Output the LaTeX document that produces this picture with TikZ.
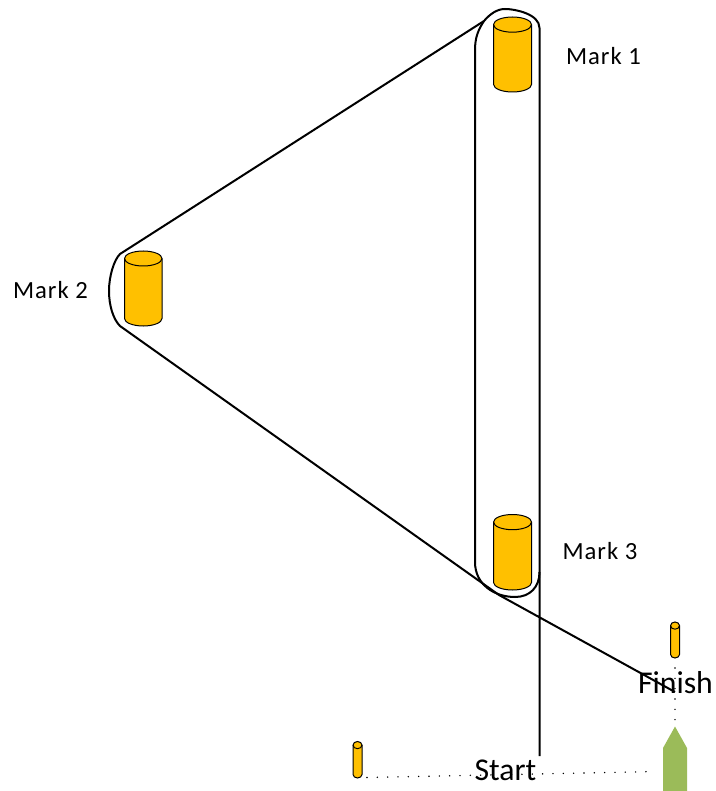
\documentclass[tikz,border=0pt]{standalone}
\usepackage{fontspec}
\setmainfont{Carlito}
\newfontfamily\markfont[LetterSpace=4]{Carlito}
\definecolor{markcol}{HTML}{FFC000}
\definecolor{boatcol}{HTML}{9BBB59}
\tikzset{
  course/.style={draw=black,line width=1.5pt,line join=round},
  markline/.style={draw=black,line width=0.75pt,fill=markcol},
  ellline/.style={draw=black,line width=0.75pt},
  marklabel/.style={font=\markfont\fontsize{18.5}{20}\selectfont,inner sep=0pt,anchor=center},
  bigtext/.style={font=\fontsize{23.8}{26}\selectfont,inner sep=0pt,anchor=center},
  dotline/.style={draw=black,line width=1.2pt,line cap=round,dash pattern=on 0pt off 7.75pt},
}
\newcommand{\cyl}[5]{% left x, right x, top y, bottom y, ellipse ratio
  \pgfmathsetmacro{\rx}{(#2-#1)/2}
  \pgfmathsetmacro{\ry}{\rx*#5}
  \path[markline] (#1,#3+\ry) -- (#1,#4-\ry) arc[x radius=\rx,y radius=\ry,start angle=180,end angle=0] -- (#2,#3+\ry) arc[x radius=\rx,y radius=\ry,start angle=0,end angle=-180] -- cycle;
  \path[ellline] (#1,#3+\ry) arc[x radius=\rx,y radius=\ry,start angle=180,end angle=0];
}
\begin{document}
\begin{tikzpicture}[x=0.75pt,y=-0.75pt]
\useasboundingbox (0,0) rectangle (715,791);
% course
\coordinate (startend) at (539.5,756);
\coordinate (topright) at (539.5,28);
\coordinate (topleft) at (484,21);
\coordinate (m2top) at (120,254);
\coordinate (m2bot) at (120,326);
\coordinate (m3low) at (499,595);
\coordinate (finishend) at (675,692);
\draw[course] (startend) -- (topright)
  .. controls (539.5,14) and (515,9) .. (505,9)
  .. controls (497,9) and (490,14) .. (topleft)
  -- (m2top)
  .. controls (114,260) and (109,276) .. (109,291)
  .. controls (109,305) and (113,319) .. (m2bot)
  -- (m3low) -- (finishend);
\draw[course] (topleft)
  .. controls (478,30) and (475,38) .. (475,50)
  -- (475,562)
  .. controls (475,585) and (495,597) .. (515,597)
  .. controls (530,597) and (539.5,587) .. (539.5,572);
% marks
\cyl{493.5}{531.5}{17}{92}{0.4}
\cyl{124.5}{162}{251}{326}{0.4}
\cyl{493.5}{531.5}{514.5}{590}{0.4}
\cyl{670.5}{679.5}{622}{658}{0.8}
\cyl{353}{362}{741.5}{778}{0.8}
% boat
\fill[boatcol] (675,726.5) -- (687,748) -- (687,791) -- (663,791) -- (663,748) -- cycle;
% dotted lines
\coordinate (gateL) at (367,777.5);
\coordinate (gateR) at (656,771.5);
\draw[dotline] (gateL) -- (gateR);
\coordinate (finT) at (675,668);
\coordinate (finB) at (675,720);
\draw[dotline] (finT) -- (finB);
% labels
\node[marklabel] (m1) at (603.5,56) {Mark 1};
\node[marklabel] (m2) at (50.5,290) {Mark 2};
\node[marklabel] (m3) at (600,551) {Mark 3};
\node[bigtext] (st) at (505.5,770) {Start};
\node[bigtext] (fi) at (675.5,683) {Finish};
\end{tikzpicture}
\end{document}
